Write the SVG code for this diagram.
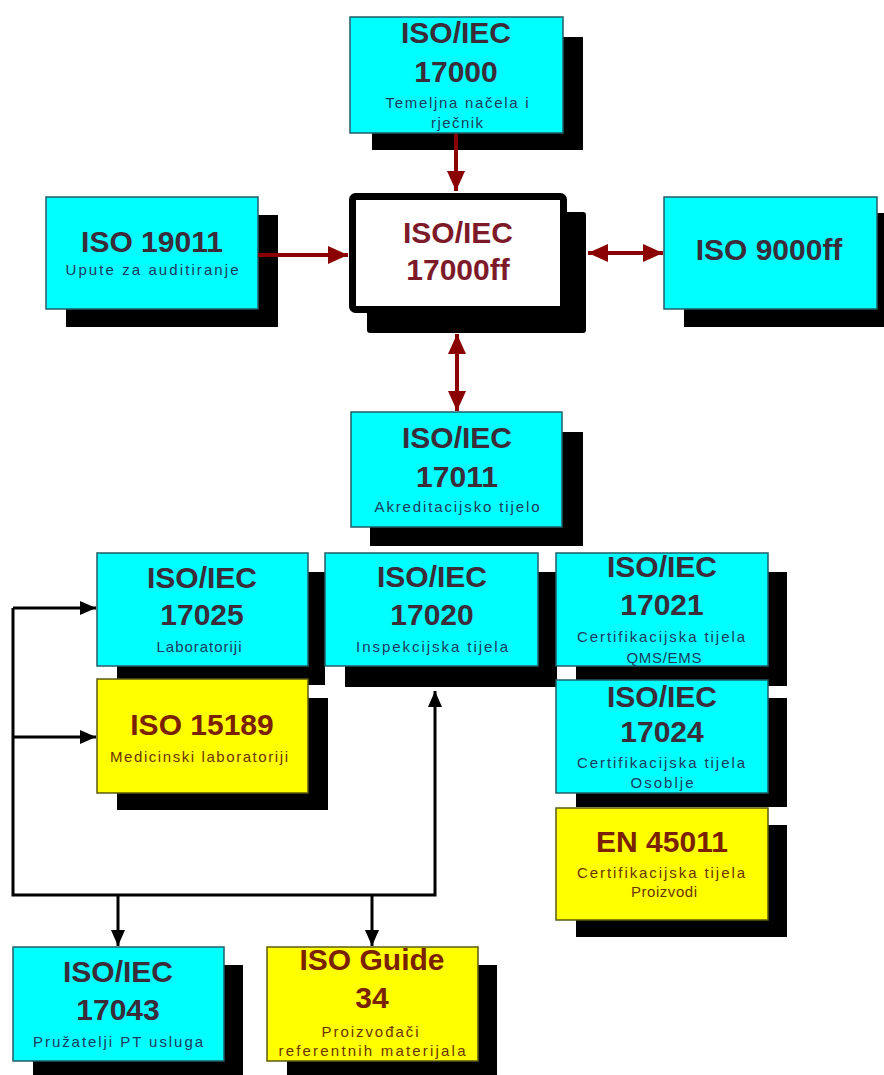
<svg xmlns="http://www.w3.org/2000/svg" width="884" height="1075" viewBox="0 0 884 1075">
<style>
.sh{fill:#000}
.cy{fill:#00ffff;stroke:#1f5f66;stroke-width:1.5}
.ye{fill:#ffff00;stroke:#5a5a10;stroke-width:1.5}
.t{font-family:"Liberation Sans",Arial,sans-serif;font-weight:bold;font-size:30px;text-anchor:middle}
.s{font-family:"Liberation Sans",Arial,sans-serif;font-size:15px;text-anchor:middle}
.tc{fill:#3a2c38}
.sc{fill:#1e3a5c}
.ty{fill:#7a2200}
.sy{fill:#6a3400}
.tr{fill:#7d1a2a}
.red{stroke:#8b0000;stroke-width:4;fill:none}
.blk{stroke:#000;stroke-width:3;fill:none}
</style>
<defs>
<marker id="ra" markerUnits="userSpaceOnUse" markerWidth="22" markerHeight="18" refX="20" refY="9" orient="auto-start-reverse">
<path d="M0,0 L20,9 L0,18 z" fill="#8b0000"/>
</marker>
<marker id="ba" markerUnits="userSpaceOnUse" markerWidth="18" markerHeight="14" refX="16" refY="7" orient="auto-start-reverse">
<path d="M0,0 L16,7 L0,14 z" fill="#000"/>
</marker>
</defs>

<g id="n17000">
<rect class="sh" x="372" y="37" width="211" height="113"/>
<rect class="cy" x="350" y="17" width="213" height="116"/>
<text class="t tc" x="456" y="43">ISO/IEC</text>
<text class="t tc" x="456" y="82">17000</text>
<text class="s sc" x="457" y="108" textLength="143" lengthAdjust="spacing">Temeljna načela i</text>
<text class="s sc" x="457" y="128" textLength="52" lengthAdjust="spacing">rječnik</text>
</g>

<g id="n19011">
<rect class="sh" x="66" y="215" width="212" height="112"/>
<rect class="cy" x="46" y="197" width="212" height="112"/>
<text class="t tc" x="152" y="252">ISO 19011</text>
<text class="s sc" x="152" y="275" textLength="173" lengthAdjust="spacing">Upute za auditiranje</text>
</g>

<g id="n17000ff">
<rect class="sh" x="367" y="212" width="219" height="121" rx="3"/>
<rect x="352.5" y="196.5" width="211" height="113" rx="3" fill="#fff" stroke="#000" stroke-width="7"/>
<text class="t tr" x="458" y="243">ISO/IEC</text>
<text class="t tr" x="458" y="280">17000ff</text>
</g>

<g id="n9000">
<rect class="sh" x="684" y="213" width="213" height="114"/>
<rect class="cy" x="664" y="197" width="213" height="112"/>
<text class="t tc" x="769" y="260">ISO 9000ff</text>
</g>

<g id="n17011">
<rect class="sh" x="370" y="432" width="213" height="114"/>
<rect class="cy" x="351" y="412" width="211" height="115"/>
<text class="t tc" x="457" y="448">ISO/IEC</text>
<text class="t tc" x="457" y="487">17011</text>
<text class="s sc" x="457" y="512" textLength="165" lengthAdjust="spacing">Akreditacijsko tijelo</text>
</g>

<g id="n17025">
<rect class="sh" x="117" y="572" width="208" height="113"/>
<rect class="cy" x="97" y="553" width="211" height="113"/>
<text class="t tc" x="202" y="588">ISO/IEC</text>
<text class="t tc" x="202" y="625">17025</text>
<text class="s sc" x="199" y="652" textLength="85" lengthAdjust="spacing">Laboratoriji</text>
</g>

<g id="n15189">
<rect class="sh" x="117" y="698" width="211" height="112"/>
<rect class="ye" x="97" y="679" width="211" height="114"/>
<text class="t ty" x="202" y="735">ISO 15189</text>
<text class="s sy" x="199" y="762" textLength="178" lengthAdjust="spacing">Medicinski laboratoriji</text>
</g>

<g id="n17020">
<rect class="sh" x="345" y="572" width="212" height="115"/>
<rect class="cy" x="325" y="553" width="213" height="113"/>
<text class="t tc" x="432" y="587">ISO/IEC</text>
<text class="t tc" x="432" y="625">17020</text>
<text class="s sc" x="432" y="652" textLength="152" lengthAdjust="spacing">Inspekcijska tijela</text>
</g>

<g id="n17021">
<rect class="sh" x="576" y="572" width="211" height="114"/>
<rect class="cy" x="556" y="553" width="212" height="113"/>
<text class="t tc" x="662" y="577">ISO/IEC</text>
<text class="t tc" x="662" y="615">17021</text>
<text class="s sc" x="661" y="642" textLength="168" lengthAdjust="spacing">Certifikacijska tijela</text>
<text class="s sc" x="664" y="663" textLength="75" lengthAdjust="spacing">QMS/EMS</text>
</g>

<g id="n17024">
<rect class="sh" x="576" y="698" width="211" height="109"/>
<rect class="cy" x="556" y="680" width="212" height="113"/>
<text class="t tc" x="662" y="707">ISO/IEC</text>
<text class="t tc" x="662" y="742">17024</text>
<text class="s sc" x="661" y="768" textLength="168" lengthAdjust="spacing">Certifikacijska tijela</text>
<text class="s sc" x="662" y="788" textLength="63" lengthAdjust="spacing">Osoblje</text>
</g>

<g id="n45011">
<rect class="sh" x="576" y="825" width="211" height="112"/>
<rect class="ye" x="556" y="808" width="212" height="112"/>
<text class="t ty" x="662" y="852">EN 45011</text>
<text class="s sy" x="661" y="878" textLength="168" lengthAdjust="spacing">Certifikacijska tijela</text>
<text class="s sy" x="664" y="897" textLength="66" lengthAdjust="spacing">Proizvodi</text>
</g>

<g id="n17043">
<rect class="sh" x="33" y="965" width="210" height="115"/>
<rect class="cy" x="13" y="947" width="211" height="114"/>
<text class="t tc" x="118" y="982">ISO/IEC</text>
<text class="t tc" x="118" y="1020">17043</text>
<text class="s sc" x="118" y="1047" textLength="170" lengthAdjust="spacing">Pružatelji PT usluga</text>
</g>

<g id="nGuide34">
<rect class="sh" x="287" y="965" width="210" height="115"/>
<rect class="ye" x="267" y="947" width="211" height="114"/>
<text class="t ty" x="372" y="970">ISO Guide</text>
<text class="t ty" x="372" y="1008">34</text>
<text class="s sy" x="370" y="1037" textLength="97" lengthAdjust="spacing">Proizvođači</text>
<text class="s sy" x="372" y="1056" textLength="187" lengthAdjust="spacing">referentnih materijala</text>
</g>

<g id="connectors">
<line class="red" x1="456" y1="134" x2="456" y2="191" marker-end="url(#ra)"/>
<line class="red" x1="258" y1="255" x2="348" y2="255" marker-end="url(#ra)"/>
<line class="red" x1="588" y1="253" x2="663" y2="253" marker-start="url(#ra)" marker-end="url(#ra)"/>
<line class="red" x1="457" y1="334" x2="457" y2="411" marker-start="url(#ra)" marker-end="url(#ra)"/>
<path class="blk" d="M13,608 L13,895 L435,895 L435,691" marker-end="url(#ba)"/>
<line class="blk" x1="13" y1="608" x2="96" y2="608" marker-end="url(#ba)"/>
<line class="blk" x1="13" y1="737" x2="96" y2="737" marker-end="url(#ba)"/>
<line class="blk" x1="118" y1="895" x2="118" y2="946" marker-end="url(#ba)"/>
<line class="blk" x1="372" y1="895" x2="372" y2="946" marker-end="url(#ba)"/>
</g>
</svg>
